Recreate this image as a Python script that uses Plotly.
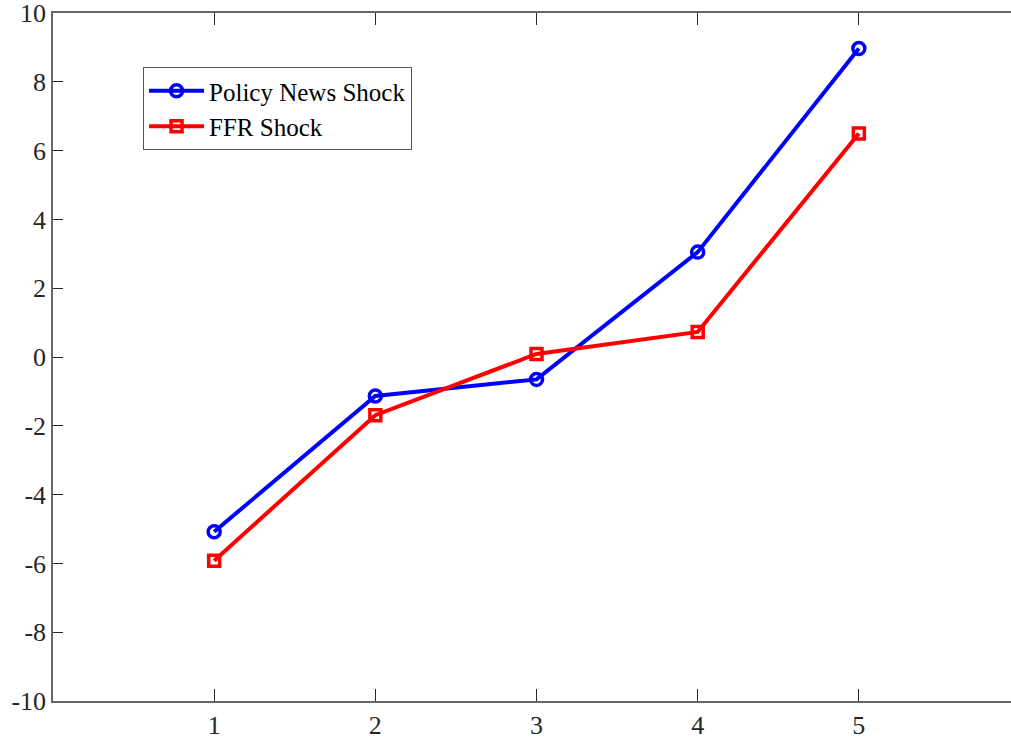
import plotly.graph_objects as go

x_vals = [1, 2, 3, 4, 5]
policy_news = [-5.08, -1.13, -0.65, 3.05, 8.97]
ffr_shock = [-5.92, -1.69, 0.09, 0.73, 6.50]
y_ticks = [-10, -8, -6, -4, -2, 0, 2, 4, 6, 8, 10]
x_ticks = [1, 2, 3, 4, 5]

font_family = "'Liberation Serif', 'Times New Roman', serif"

fig = go.Figure()
fig.add_trace(go.Scatter(
    x=x_vals, y=policy_news, mode="lines+markers", name="Policy News Shock",
    line=dict(color="#0000ff", width=4),
    marker=dict(symbol="circle-open", size=12, color="#0000ff", line=dict(width=3.5)),
))
fig.add_trace(go.Scatter(
    x=x_vals, y=ffr_shock, mode="lines+markers", name="FFR Shock",
    line=dict(color="#ff0000", width=4),
    marker=dict(symbol="square-open", size=11, color="#ff0000", line=dict(width=3.5)),
))

fig.update_layout(
    template="none",
    width=1011, height=745,
    margin=dict(l=53, r=0, t=13, b=44, autoexpand=False),
    paper_bgcolor="white", plot_bgcolor="white",
    font=dict(family=font_family, size=25, color="#262626"),
    showlegend=True,
    legend=dict(
        x=0.094, y=0.9215, xanchor="left", yanchor="top",
        bgcolor="white", bordercolor="#555555", borderwidth=1,
        font=dict(family=font_family, size=25, color="black"),
        itemwidth=55, tracegroupgap=0,
    ),
    xaxis=dict(
        range=[0, 5.944], tickvals=x_ticks, ticktext=[str(v) for v in x_ticks],
        automargin=False, ticklabeloverflow="allow",
        showgrid=False, zeroline=False, showline=True, linecolor="#666666", linewidth=1.5,
        mirror="ticks", ticks="inside", ticklen=12, tickcolor="#262626", tickwidth=1,
        tickfont=dict(family=font_family, size=26, color="#262626"),
    ),
    yaxis=dict(
        range=[-10, 10.002], tickvals=y_ticks, ticktext=[str(v) for v in y_ticks],
        automargin=False, ticklabeloverflow="allow",
        showgrid=False, zeroline=False, showline=True, linecolor="#666666", linewidth=1.5,
        ticks="inside", ticklen=10, tickcolor="#262626", tickwidth=1,
        tickfont=dict(family=font_family, size=26, color="#262626"),
    ),
)

fig.write_html(
    "out.html",
    config={"displayModeBar": False},
    post_script="document.body.style.margin='0';document.body.style.overflow='hidden';",
)
